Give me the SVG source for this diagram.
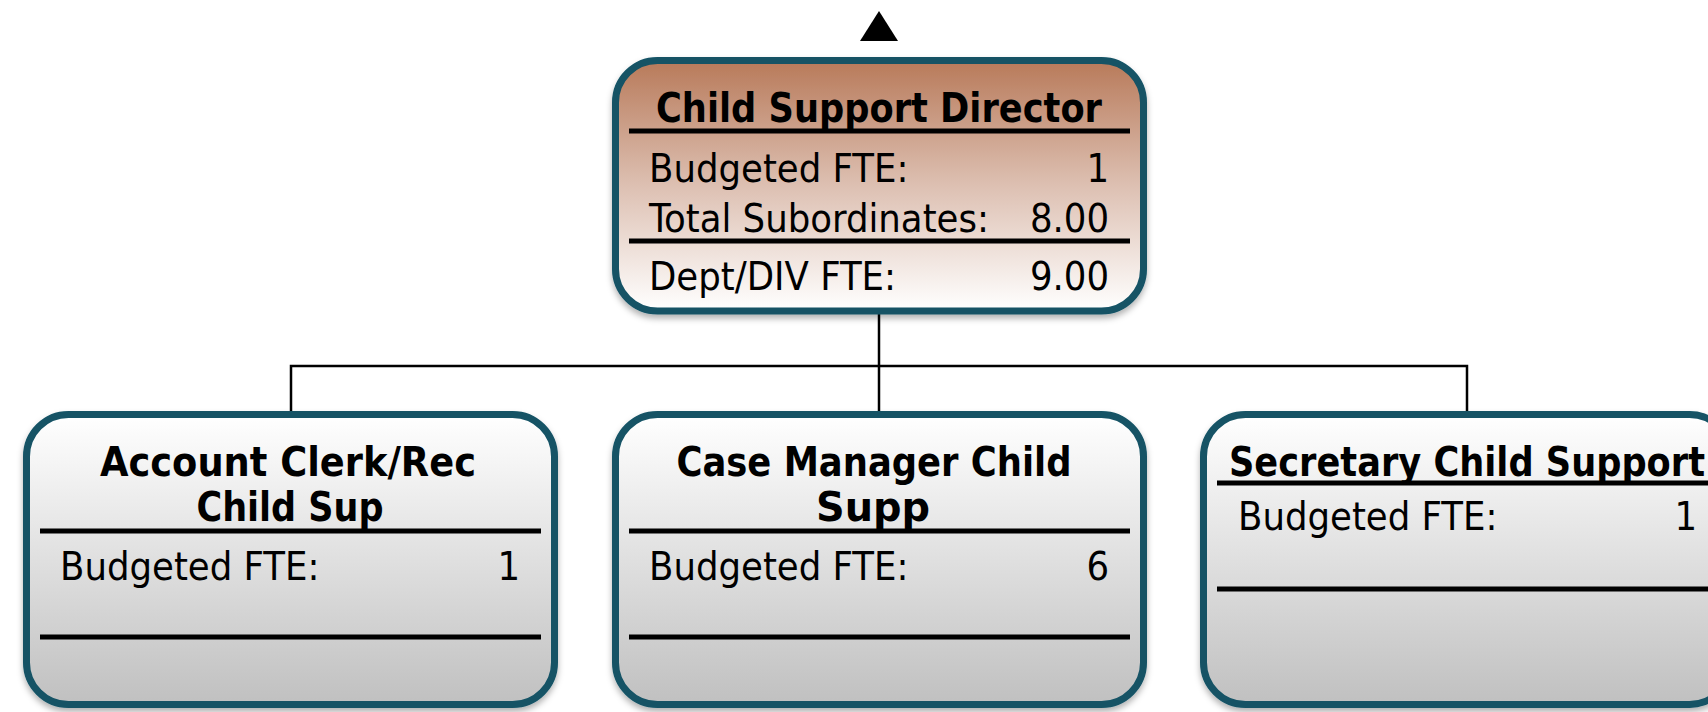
<svg xmlns="http://www.w3.org/2000/svg" width="1708" height="712" viewBox="0 0 1708 712">
<style>
.box{stroke:#135265;stroke-width:7;filter:url(#sh)}
.t{font-family:"DejaVu Sans Condensed","DejaVu Sans",sans-serif;font-weight:bold;font-size:40px;fill:#000;text-anchor:middle}
.b{font-family:"DejaVu Sans Condensed","DejaVu Sans",sans-serif;font-size:39.5px;fill:#000}
.r{text-anchor:end}
.sep{stroke:#000;stroke-width:5}
.con{stroke:#000;stroke-width:2.5;fill:none}
</style>
<defs>
<linearGradient id="gd" x1="0" y1="0" x2="0" y2="1">
<stop offset="0" stop-color="#B87A5A"/>
<stop offset="0.5" stop-color="#DDC0B2"/>
<stop offset="1" stop-color="#FFFFFF"/>
</linearGradient>
<linearGradient id="gg" x1="0" y1="0" x2="0" y2="1">
<stop offset="0" stop-color="#FFFFFF"/>
<stop offset="1" stop-color="#C0C0C0"/>
</linearGradient>
<filter id="sh" x="-5%" y="-5%" width="110%" height="115%">
<feDropShadow dx="0" dy="4" stdDeviation="3" flood-color="#000" flood-opacity="0.3"/>
</filter>
</defs>
<rect width="1708" height="712" fill="#FFFFFF"/>
<polygon points="879,11 860,41 898,41" fill="#000"/>
<g id="connectors">
<path class="con" d="M879,314 V366"/>
<path class="con" d="M291,411 V366 H1467 V411"/>
<path class="con" d="M879,366 V411"/>
</g>
<g id="director">
<rect class="box" x="615.5" y="60.5" width="528" height="250.5" rx="42" fill="url(#gd)"/>
<text class="t" x="879" y="122" textLength="446" lengthAdjust="spacingAndGlyphs">Child Support Director</text>
<line class="sep" x1="629" y1="131" x2="1130" y2="131"/>
<text class="b" x="649" y="182">Budgeted FTE:</text>
<text class="b r" x="1109" y="182">1</text>
<text class="b" x="649" y="232">Total Subordinates:</text>
<text class="b r" x="1109" y="232">8.00</text>
<line class="sep" x1="629" y1="241" x2="1130" y2="241"/>
<text class="b" x="649" y="290">Dept/DIV FTE:</text>
<text class="b r" x="1109" y="290">9.00</text>
</g>
<g id="account-clerk">
<rect class="box" x="26.5" y="414.5" width="528" height="290" rx="42" fill="url(#gg)"/>
<text class="t" x="288" y="476" textLength="376" lengthAdjust="spacingAndGlyphs">Account Clerk/Rec</text>
<text class="t" x="290" y="521" textLength="187" lengthAdjust="spacingAndGlyphs">Child Sup</text>
<line class="sep" x1="40" y1="531" x2="541" y2="531"/>
<text class="b" x="60" y="580">Budgeted FTE:</text>
<text class="b r" x="520" y="580">1</text>
<line class="sep" x1="40" y1="637" x2="541" y2="637"/>
</g>
<g id="case-manager">
<rect class="box" x="615.5" y="414.5" width="528" height="290" rx="42" fill="url(#gg)"/>
<text class="t" x="874" y="476" textLength="395" lengthAdjust="spacingAndGlyphs">Case Manager Child</text>
<text class="t" x="873" y="521" textLength="114" lengthAdjust="spacingAndGlyphs">Supp</text>
<line class="sep" x1="629" y1="531" x2="1130" y2="531"/>
<text class="b" x="649" y="580">Budgeted FTE:</text>
<text class="b r" x="1109" y="580">6</text>
<line class="sep" x1="629" y1="637" x2="1130" y2="637"/>
</g>
<g id="secretary">
<rect class="box" x="1203.5" y="414.5" width="528" height="290" rx="42" fill="url(#gg)"/>
<text class="t" x="1467" y="476" textLength="476" lengthAdjust="spacingAndGlyphs">Secretary Child Support</text>
<line class="sep" x1="1217" y1="483" x2="1716" y2="483"/>
<text class="b" x="1238" y="530">Budgeted FTE:</text>
<text class="b r" x="1697" y="530">1</text>
<line class="sep" x1="1217" y1="589" x2="1716" y2="589"/>
</g>
</svg>
